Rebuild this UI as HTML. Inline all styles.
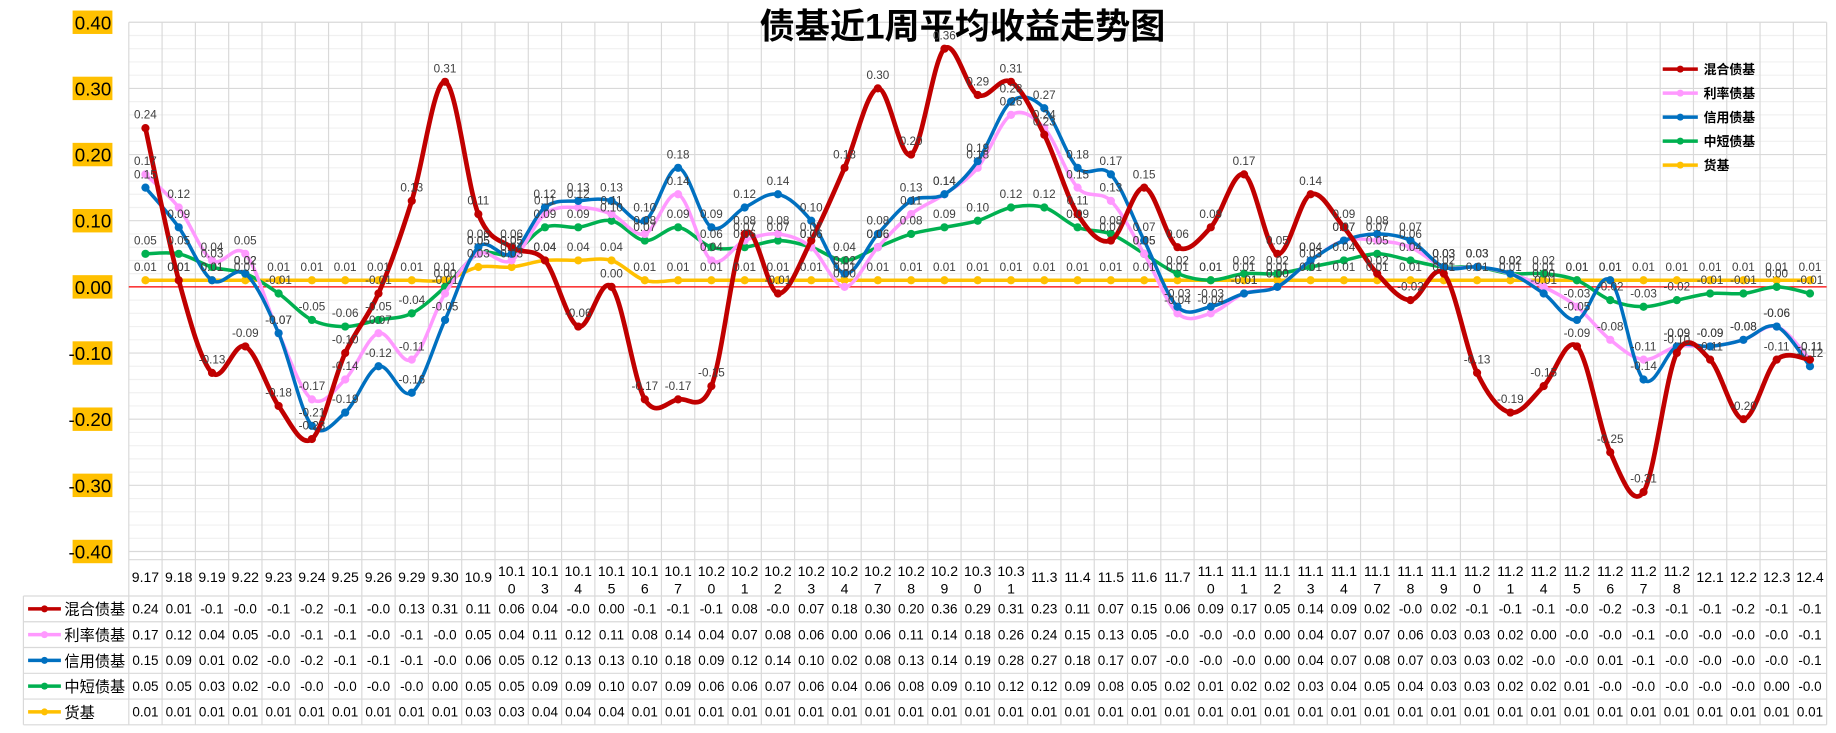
<!DOCTYPE html>
<html><head><meta charset="utf-8"><style>
body{margin:0;background:#fff;}
svg{display:block;font-family:"Liberation Sans","Noto Sans CJK SC",sans-serif;}
</style></head><body>
<svg id="c" width="1836" height="733" viewBox="0 0 1568 626" preserveAspectRatio="none"></svg>
<script>
const categories=["9.17","9.18","9.19","9.22","9.23","9.24","9.25","9.26","9.29","9.30","10.9","10.10","10.13","10.14","10.15","10.16","10.17","10.20","10.21","10.22","10.23","10.24","10.27","10.28","10.29","10.30","10.31","11.3","11.4","11.5","11.6","11.7","11.10","11.11","11.12","11.13","11.14","11.17","11.18","11.19","11.20","11.21","11.24","11.25","11.26","11.27","11.28","12.1","12.2","12.3","12.4"];
const seriesNames=["混合债基","利率债基","信用债基","中短债基","货基"];
const mixed=[0.24,0.01,-0.13,-0.09,-0.18,-0.23,-0.10,-0.01,0.13,0.31,0.11,0.06,0.04,-0.06,0.00,-0.17,-0.17,-0.15,0.08,-0.01,0.07,0.18,0.30,0.20,0.36,0.29,0.31,0.23,0.11,0.07,0.15,0.06,0.09,0.17,0.05,0.14,0.09,0.02,-0.02,0.02,-0.13,-0.19,-0.15,-0.09,-0.25,-0.31,-0.10,-0.11,-0.20,-0.11,-0.11];
const rate=[0.17,0.12,0.04,0.05,-0.07,-0.17,-0.14,-0.07,-0.11,-0.01,0.05,0.04,0.11,0.12,0.11,0.08,0.14,0.04,0.07,0.08,0.06,0.00,0.06,0.11,0.14,0.18,0.26,0.24,0.15,0.13,0.05,-0.04,-0.04,-0.01,0.00,0.04,0.07,0.07,0.06,0.03,0.03,0.02,0.00,-0.03,-0.08,-0.11,-0.09,-0.09,-0.08,-0.06,-0.11];
const credit=[0.15,0.09,0.01,0.02,-0.07,-0.21,-0.19,-0.12,-0.16,-0.05,0.06,0.05,0.12,0.13,0.13,0.10,0.18,0.09,0.12,0.14,0.10,0.02,0.08,0.13,0.14,0.19,0.28,0.27,0.18,0.17,0.07,-0.03,-0.03,-0.01,0.00,0.04,0.07,0.08,0.07,0.03,0.03,0.02,-0.01,-0.05,0.01,-0.14,-0.09,-0.09,-0.08,-0.06,-0.12];
const shortMid=[0.05,0.05,0.03,0.02,-0.01,-0.05,-0.06,-0.05,-0.04,0.00,0.05,0.05,0.09,0.09,0.10,0.07,0.09,0.06,0.06,0.07,0.06,0.04,0.06,0.08,0.09,0.10,0.12,0.12,0.09,0.08,0.05,0.02,0.01,0.02,0.02,0.03,0.04,0.05,0.04,0.03,0.03,0.02,0.02,0.01,-0.02,-0.03,-0.02,-0.01,-0.01,0.00,-0.01];
const money=[0.01,0.01,0.01,0.01,0.01,0.01,0.01,0.01,0.01,0.01,0.03,0.03,0.04,0.04,0.04,0.01,0.01,0.01,0.01,0.01,0.01,0.01,0.01,0.01,0.01,0.01,0.01,0.01,0.01,0.01,0.01,0.01,0.01,0.01,0.01,0.01,0.01,0.01,0.01,0.01,0.01,0.01,0.01,0.01,0.01,0.01,0.01,0.01,0.01,0.01,0.01];
const yTicks=[0.40,0.30,0.20,0.10,0.00,-0.10,-0.20,-0.30,-0.40];
const colors=["#c00000","#ff99ff","#0070c0","#00b050","#ffc000"];
const allSeries=[mixed,rate,credit,shortMid,money];

const NS="http://www.w3.org/2000/svg";
const svg=document.getElementById('c');
const X0=110,X1=1560,N=categories.length,CW=(X1-X0)/N;
const xs=i=>X0+CW*(i+0.5);
const ys=v=>245-v*565;
function el(tag,attrs,parent){const e=document.createElementNS(NS,tag);for(const k in attrs)e.setAttribute(k,attrs[k]);(parent||svg).appendChild(e);return e;}

for(let v=-0.40;v<=0.401;v+=0.02){const g=el('line',{x1:X0,x2:X1,y1:ys(v),y2:ys(v),stroke:Math.abs(Math.round(v*100)%10)===0?'#d9d9d9':'#f0f0f0','stroke-width':1});

}
const rowY=[478,509,531,553,575,597,619];
for(let i=0;i<=N;i++){const x=X0+CW*i;const l=el('line',{x1:x,x2:x,y1:19,y2:619,stroke:'#d9d9d9','stroke-width':1});

}
rowY.forEach((y,k)=>{const l=el('line',{x1:k===0?X0:20,x2:X1,y1:y,y2:y,stroke:'#d9d9d9'});

});
el('line',{x1:20,x2:20,y1:509,y2:619,stroke:'#d9d9d9'});
const z=el('line',{x1:X0,x2:X1,y1:ys(0),y2:ys(0),stroke:'#ff0000','stroke-width':1});



yTicks.forEach(v=>{const g=el('g',{});


el('rect',{x:62,y:ys(v)-10,width:34,height:20,fill:'#ffc000'},g);
const t=el('text',{x:95,y:ys(v)+6,'text-anchor':'end','font-size':16,fill:'#000'},g);t.textContent=v.toFixed(2);});

const title=el('text',{x:822,y:33,'text-anchor':'middle','font-size':30,'font-weight':'bold',fill:'#000'});
title.textContent='债基近1周平均收益走势图';



function smoothPath(vals){const p=vals.map((v,i)=>[xs(i),ys(v)]);let d='M'+p[0][0]+','+p[0][1];
for(let i=0;i<p.length-1;i++){const a=p[i-1]||p[i],b=p[i],c=p[i+1],e=p[i+2]||c;const t=1/6;
d+=' C'+(b[0]+(c[0]-a[0])*t)+','+(b[1]+(c[1]-a[1])*t)+' '+(c[0]-(e[0]-b[0])*t)+','+(c[1]-(e[1]-b[1])*t)+' '+c[0]+','+c[1];}return d;}

const order=[4,3,1,2,0];
order.forEach(s=>{const vals=allSeries[s];const g=el('g',{});


el('path',{d:smoothPath(vals),fill:'none',stroke:colors[s],'stroke-width':s===0?4:3},g);
vals.forEach((v,i)=>{const c=el('circle',{cx:xs(i),cy:ys(v),r:3.5,fill:colors[s]},g);

});});
order.forEach(s=>{allSeries[s].forEach((v,i)=>{const t=el('text',{x:xs(i),y:ys(v)-8,'text-anchor':'middle','font-size':10,fill:'#404040'});t.textContent=v.toFixed(2);

});});

seriesNames.forEach((n,s)=>{const y=59+s*20.5;const g=el('g',{});


el('line',{x1:1420,x2:1450,y1:y,y2:y,stroke:colors[s],'stroke-width':3},g);
el('circle',{cx:1435,cy:y,r:3,fill:colors[s]},g);
const t=el('text',{x:1455,y:y+4,'font-size':11,'font-weight':'bold',fill:'#000'},g);t.textContent=n;});

categories.forEach((c,i)=>{const x=xs(i);const t=el('text',{x:x,y:c.length>4?492:497,'text-anchor':'middle','font-size':12,fill:'#000'});


if(c.length>4){const a=el('tspan',{x:x},t);a.textContent=c.slice(0,4);const b=el('tspan',{x:x,dy:15},t);b.textContent=c.slice(4);}else t.textContent=c;});
allSeries.forEach((vals,s)=>{const yc=(rowY[s+1]+rowY[s+2])/2;const g=el('g',{});


el('line',{x1:24,x2:52,y1:yc,y2:yc,stroke:colors[s],'stroke-width':3},g);
el('circle',{cx:38,cy:yc,r:3,fill:colors[s]},g);
const n=el('text',{x:55,y:yc+5,'font-size':13,fill:'#000'},g);n.textContent=seriesNames[s];
vals.forEach((v,i)=>{let str=v.toFixed(2);if(v<0)str=str.slice(0,4);const t=el('text',{x:xs(i),y:yc+4,'text-anchor':'middle','font-size':11.5,fill:'#000'},g);t.textContent=str;});});
</script>
</body></html>
